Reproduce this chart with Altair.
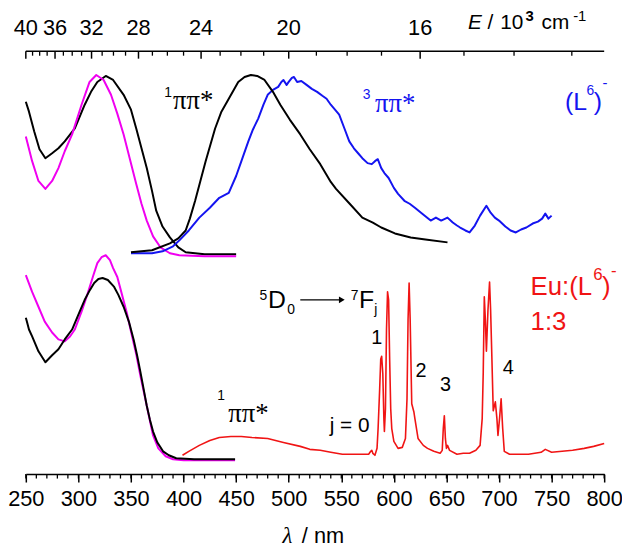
import altair as alt
import pandas as pd

# ---------------- data (wavelength / nm, signal / a.u. incl. vertical offset) ----------------
# upper panel: (L6)- absorption (black)
absL_lam = [250, 253, 258, 263, 268.6, 275, 281, 287, 296.6, 306, 312, 318, 326, 333, 343, 350, 355, 360, 365, 370,
            374, 380, 387, 395, 402, 420, 450]
absL_val = [376, 366, 346, 328, 319, 324, 329, 336, 349, 373, 386, 396, 402, 398, 383, 368, 349, 329, 309, 286,
            266, 250, 239, 229, 224, 222, 222]
# upper panel: (L6)- excitation (magenta)
excL_lam = [250, 256, 262, 268.6, 275, 281, 287, 294, 303, 310.6, 317, 324, 331, 337, 343, 349, 355, 360, 365, 371,
            378, 387, 396, 420, 450]
excL_val = [341, 316, 296, 288, 296, 309, 326, 343, 373, 396, 403, 398, 383, 364, 343, 318, 293, 273, 256, 240,
            229, 223, 221, 220, 220]
# upper panel: 1pipi* fluorescence (black)
fluL_lam = [350, 370, 387, 395, 402, 406, 411, 416, 421, 430, 436, 443, 452, 458, 464, 470, 477, 485, 492, 501,
            511, 520, 530, 540, 545, 558, 570, 580, 588, 601, 616, 630, 651]
fluL_val = [224, 226, 233, 238, 246, 258, 276, 296, 316, 349, 366, 379, 396, 401, 403, 402, 398, 386, 373, 358,
            343, 328, 313, 295, 288, 273, 259, 254, 249, 243, 239, 237, 234]
# upper panel: 3pipi* phosphorescence (blue)
phoL_lam = [350, 370, 380, 390, 396, 405, 415, 425, 434, 443, 450, 455, 461.6, 466, 471, 476, 480, 485, 490, 493,
            495, 498, 500, 503, 505, 508, 512, 517, 522, 527, 532, 536, 540, 544, 548, 553, 557.6, 562, 566, 570,
            575, 579, 582, 584.7, 588, 591, 595, 600, 604, 610, 615, 620, 627, 635, 640, 645, 651, 656, 660, 663,
            668, 672, 677, 682, 688, 692, 696, 700, 706, 711, 716, 721, 726, 732, 737, 741, 744, 747, 750]
phoL_val = [223, 223, 225, 230, 236, 246, 259, 269, 279, 284, 301, 316, 336, 348, 359, 373, 383, 388, 391, 396,
            398, 393, 396, 400, 401, 396, 397, 393, 389, 386, 382, 379, 373, 368, 363, 349, 336, 329, 324, 319,
            314, 313, 316, 318, 309, 304, 299, 289, 283, 276, 273, 269, 263, 256, 259, 256, 259, 254, 251, 249,
            246, 244, 251, 261, 271, 264, 259, 256, 250, 246, 244, 247, 249, 253, 255, 258, 263, 258, 261]
# lower panel: Eu:(L6)- 1:3 absorption (black)
absEu_lam = [250, 251, 253, 256, 262, 268.6, 275, 281, 287, 294, 300, 306, 311, 315, 319, 323, 328, 334, 338, 343,
             348, 352.5, 356, 359, 362, 365, 368, 371, 375, 380.5, 386, 393, 410, 449]
absEu_val = [158, 154, 146, 139, 124, 113, 120, 126, 136, 146, 161, 176, 186, 193, 197, 198, 196, 189, 181, 169,
             154, 136, 119, 103, 86, 69, 55, 43, 32, 23, 19, 16, 15, 15]
# lower panel: excitation (magenta)
excEu_lam = [250, 256, 262, 268, 275, 281, 287, 292, 296.6, 303, 309, 314, 318, 322, 326, 330, 333, 337, 341, 346,
             350, 355, 359, 365, 371, 376, 383, 390, 400, 449]
excEu_val = [201, 184, 169, 154, 143, 136, 134, 139, 146, 164, 183, 200, 213, 219, 221, 216, 208, 199, 183, 163,
             144, 121, 99, 69, 39, 26, 18, 15, 14, 14]
# lower panel: Eu emission (red)
emEu_lam = [399, 405, 410, 415, 425, 434, 445, 455, 465, 480, 495, 511, 520, 530, 540, 551, 565, 576, 578, 579,
            580, 582, 584, 585, 586.5, 587.5, 588.4, 589.5, 590.5, 591, 592, 593, 594, 595, 596, 597, 598, 600, 604, 608,
            611, 612.5, 613.5, 614.5, 615.5, 617, 619, 620, 623, 628, 632, 638, 644, 646, 647, 648, 649, 650, 651, 653,
            660, 666, 672, 678, 682, 684, 685, 686, 687, 688, 689.5, 691, 692, 693, 694.5, 696.5, 698, 699, 700.5, 702,
            703.5, 705, 710, 728, 740, 744, 750, 760, 770, 781, 790, 800]
emEu_val = [19, 23, 26, 29, 34, 37, 38, 38, 37, 36, 32, 28, 25, 24, 22, 20, 20, 20, 23, 24,
            21, 19, 26, 46, 86, 116, 119, 101, 56, 43, 66, 146, 184, 176, 116, 66, 46, 33, 26, 27,
            36, 76, 156, 193, 156, 71, 63, 56, 36, 29, 26, 23, 21, 24, 46, 59, 36, 26, 29, 24,
            20, 21, 21, 24, 29, 56, 103, 179, 156, 124, 166, 194, 166, 126, 64, 73, 56, 39, 56, 76,
            46, 23, 20, 20, 22, 25, 22, 23, 24, 26, 28, 31]

BLACK, MAGENTA, BLUE, RED = "#000000", "#f000f0", "#1414f0", "#f01414"
series = [
    ("abs_L", absL_lam, absL_val, BLACK, 2.0),
    ("exc_L", excL_lam, excL_val, MAGENTA, 2.0),
    ("pho_L", phoL_lam, phoL_val, BLUE, 2.0),
    ("flu_L", fluL_lam, fluL_val, BLACK, 2.0),
    ("exc_Eu", excEu_lam, excEu_val, MAGENTA, 2.0),
    ("abs_Eu", absEu_lam, absEu_val, BLACK, 2.0),
    ("em_Eu", emEu_lam, emEu_val, RED, 1.6),
]

# axes
bottom_major = list(range(250, 801, 50))
bottom_minor = list(range(250, 801, 10))
top_E_ticks = list(range(13, 41))          # 10^3 cm^-1
top_E_labels = [40, 36, 32, 28, 24, 20, 16]

# ---------------- build ----------------
rows = []
for name, lam, val, col, sw in series:
    assert len(lam) == len(val), name
    for i, (l, v) in enumerate(zip(lam, val)):
        rows.append({"series": name, "lam": l, "val": v, "color": col, "sw": sw, "i": i})
spec = pd.DataFrame(rows)

W, H = 584, 427
xs = alt.Scale(domain=[250, 800], nice=False, zero=False)
ys = alt.Scale(domain=[0, H], nice=False, zero=False)
FONT = "Liberation Sans"
SERIF = "Liberation Serif"

bottom_axis = alt.Axis(values=bottom_major, format="d", tickSize=8, tickWidth=1.5, tickColor="black",
                       domainColor="black", domainWidth=1.5, labelFont=FONT, labelFontSize=22,
                       labelColor="black", labelPadding=7, labelFlush=False, labelOverlap=False,
                       grid=False, title=None)


def X(field="lam"):
    return alt.X(f"{field}:Q", scale=xs, axis=bottom_axis)


def Y(field="val"):
    return alt.Y(f"{field}:Q", scale=ys, axis=None)


lines = alt.Chart(spec).mark_line(strokeJoin="round").encode(
    x=X(), y=Y(), detail="series:N", order="i:Q",
    color=alt.Color("color:N", scale=None),
    strokeWidth=alt.StrokeWidth("sw:Q", scale=None, legend=None),
)

minor_b = alt.Chart(pd.DataFrame({"lam": bottom_minor})).mark_rule(color="black", strokeWidth=1.3).encode(
    x=X(), y=alt.value(H), y2=alt.value(H + 4.5))

tdf = pd.DataFrame({"E": top_E_ticks})
tdf["lam"] = 1e4 / tdf["E"]
tdf["major"] = tdf["E"].isin(top_E_labels)
top_major = alt.Chart(tdf[tdf["major"]]).mark_rule(color="black", strokeWidth=1.5).encode(
    x=X(), y=alt.value(0), y2=alt.value(7.5))
top_minor = alt.Chart(tdf[~tdf["major"]]).mark_rule(color="black", strokeWidth=1.3).encode(
    x=X(), y=alt.value(0), y2=alt.value(4.5))
top_domain = alt.Chart(pd.DataFrame({"a": [0]})).mark_rule(color="black", strokeWidth=1.5).encode(
    x=alt.value(0), x2=alt.value(W), y=alt.value(0))
top_labels = alt.Chart(tdf[tdf["major"]]).mark_text(font=FONT, fontSize=22, align="center",
                                                     baseline="alphabetic", color="black").encode(
    x=X(), y=alt.value(-16), text=alt.Text("E:Q", format="d"))


def tlayer(items, font=FONT, style="normal", weight="normal", align="left"):
    df = pd.DataFrame(items, columns=["text", "lam", "val", "size", "color"])
    return alt.Chart(df).mark_text(font=font, fontStyle=style, fontWeight=weight, align=align,
                                   baseline="alphabetic").encode(
        x=X(), y=Y(), text="text:N",
        size=alt.Size("size:Q", scale=None, legend=None),
        color=alt.Color("color:N", scale=None))


sans_text = [
    ("1", 381.6, 381, 14, BLACK),
    ("3", 570.4, 379, 14, BLUE),
    ("(L", 762.7, 368, 25, BLUE), ("6", 783.2, 383, 14, BLUE), (")", 790.2, 368, 25, BLUE), ("-", 798.4, 390, 15, BLUE),
    ("1", 432.0, 75, 14, BLACK),
    ("5", 472.2, 176, 14, BLACK), ("D", 480.3, 168, 25, BLACK), ("0", 498.6, 162, 14, BLACK),
    ("7", 559.0, 176, 14, BLACK), ("F", 566.8, 168, 25, BLACK), ("j", 581.3, 162, 14, BLACK),
    ("j = 0", 539.0, 43, 21, BLACK),
    ("Eu:(L", 730.0, 181, 26, RED), ("6", 789.5, 196, 17, RED), (")", 798.0, 181, 26, RED),
    ("-", 806.5, 200, 17, RED),
    ("1:3", 730.0, 146, 26, RED),
    ("/", 689.1, 449, 21, BLACK), ("10", 701.2, 449, 21, BLACK), ("cm", 740.4, 449, 21, BLACK),
    ("-1", 770.5, 458, 15, BLACK),
    ("/ nm", 512.5, -70, 22, BLACK),
]
center_text = [
    ("1", 583.7, 131, 20, BLACK), ("2", 625.7, 98, 20, BLACK), ("3", 649.0, 84, 20, BLACK), ("4", 708.7, 101, 20, BLACK),
]
serif_text = [
    ("ππ*", 390.0, 369, 27, BLACK),
    ("ππ*", 582.0, 366, 27, BLUE),
    ("ππ*", 442.5, 53, 27, BLACK),
]
italic_text = [
    ("E", 670.4, 449, 21, BLACK),
]
bold_text = [
    ("3", 725.2, 458, 15, BLACK),
]
lambda_text = [
    ("λ", 494.0, -70, 23, BLACK),
]

arrow_line = alt.Chart(pd.DataFrame({"lam": [511.0], "lam2": [549.0], "val": [176]})).mark_rule(
    color="black", strokeWidth=1.2).encode(x=X(), x2="lam2:Q", y=Y())
arrow_head = alt.Chart(pd.DataFrame({"lam": [550.5], "val": [176]})).mark_point(
    shape="triangle-right", filled=True, size=45, color="black", opacity=1).encode(x=X(), y=Y())

chart = alt.layer(
    lines, minor_b, top_domain, top_major, top_minor, top_labels,
    tlayer(sans_text), tlayer(center_text, align="center"), tlayer(serif_text, font=SERIF),
    tlayer(italic_text, style="italic"), tlayer(bold_text, weight="bold"),
    tlayer(lambda_text, font="Liberation Serif", style="italic"),
    arrow_line, arrow_head,
).properties(
    width=W, height=H, background="white",
    autosize=alt.AutoSizeParams(type="none"),
    padding={"left": 18, "top": 41, "right": 18, "bottom": 76},
).configure_view(stroke=None)

chart.save("out.html", embed_options={"renderer": "svg", "actions": False})
